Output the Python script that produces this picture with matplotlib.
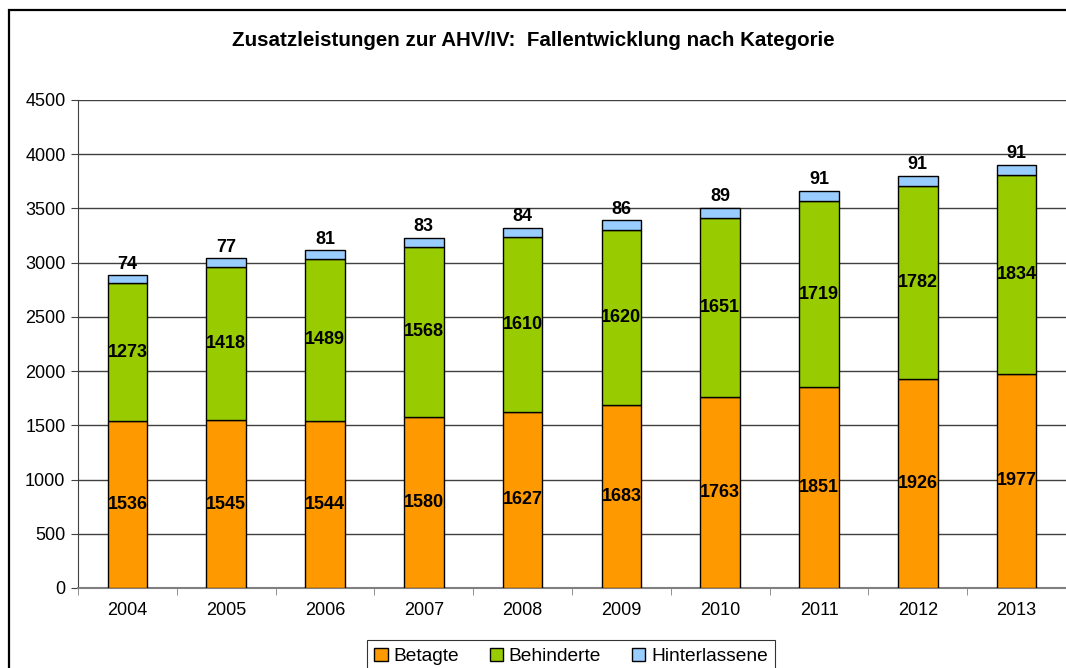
import numpy as np
import matplotlib
matplotlib.use("Agg")
import matplotlib.pyplot as plt
from matplotlib.patches import Rectangle

plt.rcParams['font.family'] = ['Liberation Sans', 'DejaVu Sans']

# --------------------- Daten ---------------------
jahre = ['2004', '2005', '2006', '2007', '2008', '2009', '2010', '2011', '2012', '2013']
betagte = [1536, 1545, 1544, 1580, 1627, 1683, 1763, 1851, 1926, 1977]
behinderte = [1273, 1418, 1489, 1568, 1610, 1620, 1651, 1719, 1782, 1834]
hinterlassene = [74, 77, 81, 83, 84, 86, 89, 91, 91, 91]

farben = ['#FF9900', '#99CC00', '#99CCFF']
namen = ['Betagte', 'Behinderte', 'Hinterlassene']

W, H = 1066, 668
fig = plt.figure(figsize=(W / 100, H / 100), dpi=100)

# Rahmen um das Diagramm (rechts und unten abgeschnitten)
fig.patches.append(Rectangle((9 / W, -0.1), 1.2, 1 - 10 / H + 0.1, transform=fig.transFigure,
                             fill=False, edgecolor='black', linewidth=1.6, zorder=0))

ax = fig.add_axes([78 / W, (H - 588) / H, (W - 78) / W, (588 - 100) / H])

x = np.arange(len(jahre))
b = np.array(betagte)
g = np.array(behinderte)
h = np.array(hinterlassene)

ax.bar(x, b, width=0.4, color=farben[0], edgecolor='black', linewidth=1, label=namen[0], zorder=3)
ax.bar(x, g, width=0.4, bottom=b, color=farben[1], edgecolor='black', linewidth=1, label=namen[1], zorder=3)
ax.bar(x, h, width=0.4, bottom=b + g, color=farben[2], edgecolor='black', linewidth=1, label=namen[2], zorder=3)

# Beschriftungen
for i in range(len(jahre)):
    ax.text(x[i], b[i] / 2, str(b[i]), ha='center', va='center', fontsize=13, fontweight='bold', zorder=4)
    ax.text(x[i], b[i] + g[i] / 2, str(g[i]), ha='center', va='center', fontsize=13, fontweight='bold', zorder=4)
    ax.annotate(str(h[i]), (x[i], b[i] + g[i] + h[i]), xytext=(0, 2), textcoords='offset points',
                ha='center', va='bottom', fontsize=13, fontweight='bold', zorder=4)

ax.set_xlim(-0.5, len(jahre) - 0.5)
ax.set_ylim(0, 4500)
ax.set_yticks(np.arange(0, 4501, 500))
ax.set_xticks(x)
ax.set_xticklabels(jahre)
ax.set_xticks(np.arange(-0.5, len(jahre), 1), minor=True)
ax.tick_params(axis='x', which='major', length=0, labelsize=13, pad=10)
ax.tick_params(axis='x', which='minor', length=5, color='#808080', direction='out')
ax.tick_params(axis='y', length=5, labelsize=13, color='#404040', pad=4)
ax.yaxis.grid(True, color='#404040', linewidth=1, zorder=0)
ax.set_axisbelow(True)

for s in ['top', 'right']:
    ax.spines[s].set_visible(False)
ax.spines['left'].set_color('#404040')
ax.spines['bottom'].set_color('#808080')
ax.spines['bottom'].set_linewidth(1.5)

fig.text(533 / W, 1 - 40 / H, 'Zusatzleistungen zur AHV/IV:  Fallentwicklung nach Kategorie',
         ha='center', va='center', fontsize=14.8, fontweight='bold')

leg = fig.legend(loc='upper center', bbox_to_anchor=(571 / W, 1 - 640 / H), ncol=3,
                 fontsize=13.8, frameon=True, fancybox=False, edgecolor='black',
                 handlelength=0.7, handleheight=0.7, handletextpad=0.3, columnspacing=1.6,
                 borderpad=0.4, borderaxespad=0)
leg.get_frame().set_linewidth(0.8)

fig.savefig('out.png', dpi=100)
